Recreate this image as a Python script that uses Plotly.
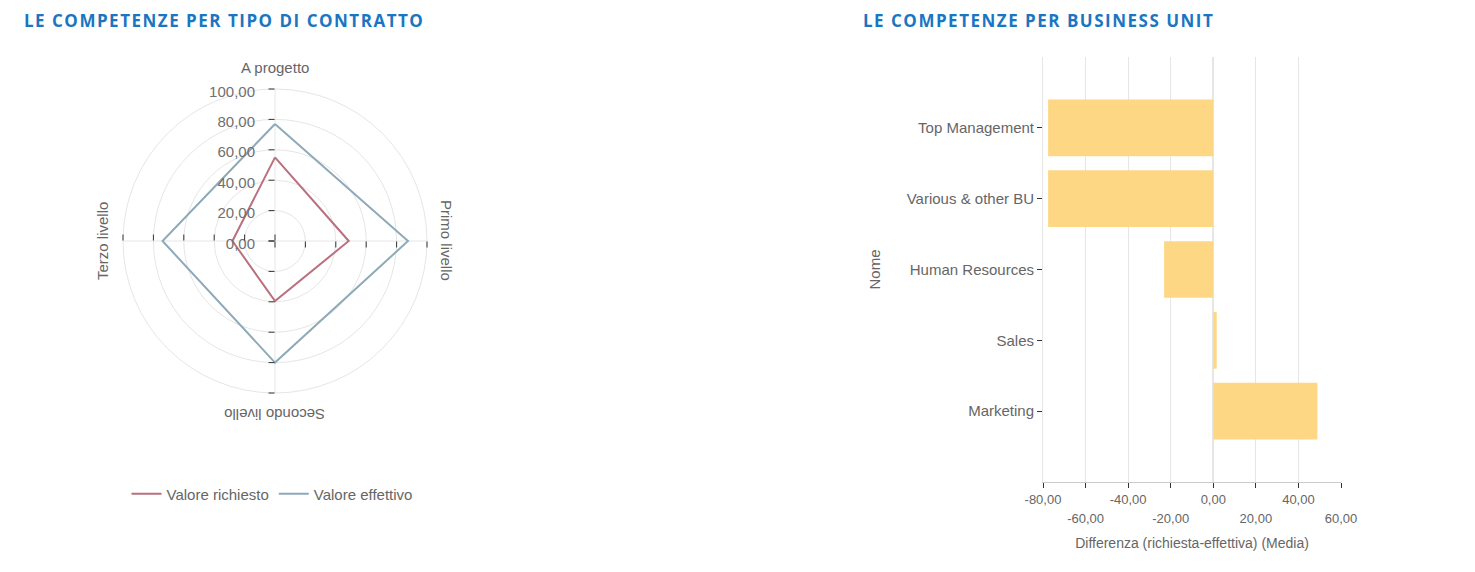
import plotly.graph_objects as go

W, H = 1475, 572

# radar: competenze per tipo di contratto
contratti = ["A progetto", "Primo livello", "Secondo livello", "Terzo livello"]
valore_richiesto = [55, 48.5, 39.5, 28]
valore_effettivo = [77, 87.5, 80, 74]

# barre: differenza per business unit
business_unit = ["Top Management", "Various & other BU", "Human Resources", "Sales", "Marketing"]
differenza = [-77.6, -77.6, -23.1, 1.6, 48.9]

x_ticks_row1 = [-80, -40, 0, 40]
x_ticks_row2 = [-60, -20, 20, 60]

GRAY = "#666666"
GRID = "#e6e6e6"
TICK = "#333333"
FONT = "Liberation Sans, Arial, sans-serif"


def px(x):
    return x / W


def py(y):
    return 1 - y / H


def fmt(v):
    return f"{v:.2f}".replace(".", ",")


fig = go.Figure()

closed = lambda l: l + l[:1]

fig.add_trace(go.Scatterpolar(
    r=closed(valore_richiesto), theta=closed(contratti),
    mode="lines", name="Valore richiesto",
    line=dict(color="#b9707f", width=2),
    subplot="polar",
))
fig.add_trace(go.Scatterpolar(
    r=closed(valore_effettivo), theta=closed(contratti),
    mode="lines", name="Valore effettivo",
    line=dict(color="#8eaab8", width=2),
    subplot="polar",
))

# extra polars only to draw the tick marks on the other spokes
for i, ang in enumerate([0, 270, 180]):
    fig.add_trace(go.Scatterpolar(r=[None], theta=[contratti[0]], mode="lines",
                                  showlegend=False, hoverinfo="skip",
                                  subplot=f"polar{i + 2}"))

fig.add_trace(go.Bar(
    x=differenza, y=business_unit, orientation="h",
    marker=dict(color="#fdd784", line=dict(width=0)),
    width=0.8, showlegend=False,
    xaxis="x", yaxis="y",
))
# second row of x tick labels
fig.add_trace(go.Scatter(x=[None], y=[business_unit[0]], xaxis="x2", yaxis="y",
                         showlegend=False, hoverinfo="skip"))

polar_domain = dict(x=[px(123), px(427)], y=[py(393), py(89)])

radial_common = dict(range=[0, 100], tickvals=[0, 20, 40, 60, 80, 100])

layout = dict(
    width=W, height=H,
    margin=dict(l=0, r=0, t=0, b=0, autoexpand=False),
    paper_bgcolor="white", plot_bgcolor="white",
    font=dict(family=FONT, color=GRAY, size=15),
    separators=",.",
    polar=dict(
        domain=polar_domain,
        bgcolor="rgba(0,0,0,0)",
        angularaxis=dict(
            rotation=90, direction="clockwise",
            showticklabels=False, ticks="",
            showline=True, linecolor=GRID, linewidth=1,
            showgrid=True, gridcolor=GRID,
        ),
        radialaxis=dict(
            **radial_common,
            angle=90, side="counterclockwise",
            tickformat=".2f",
            ticks="outside", ticklen=6, tickcolor=TICK, tickwidth=1,
            tickfont=dict(size=15, color="#707070"),
            showline=False, showgrid=True, gridcolor=GRID,
        ),
    ),
    xaxis=dict(
        domain=[px(1043), px(1341)], range=[-80, 60],
        tickvals=[-80, -60, -40, -20, 0, 20, 40, 60],
        ticktext=[fmt(v) if v in x_ticks_row1 else "" for v in [-80, -60, -40, -20, 0, 20, 40, 60]],
        ticks="outside", ticklen=5, tickcolor=TICK,
        tickfont=dict(size=13, color=GRAY),
        showline=True, linecolor="#cccccc",
        showgrid=True, gridcolor=GRID, zeroline=True, zerolinecolor=GRID,
        anchor="y", automargin=False,
        title=dict(text="Differenza (richiesta-effettiva) (Media)",
                   font=dict(size=14, color=GRAY), standoff=32),
    ),
    xaxis2=dict(
        overlaying="x", matches="x", range=[-80, 60], anchor="y", side="bottom",
        tickvals=x_ticks_row2, ticktext=[fmt(v) for v in x_ticks_row2],
        ticks="outside", ticklen=5, tickcolor="rgba(0,0,0,0)",
        ticklabelstandoff=19, automargin=False,
        tickfont=dict(size=13, color=GRAY),
        showgrid=False, zeroline=False, showline=False,
    ),
    yaxis=dict(
        domain=[py(482), py(57)], range=[5, -1],
        type="category",
        ticks="outside", ticklen=5, tickcolor=TICK,
        tickfont=dict(size=15, color=GRAY),
        showline=True, linecolor=GRID, showgrid=False, zeroline=False,
        anchor="x", automargin=False,
        title=dict(text="Nome", font=dict(size=15, color=GRAY), standoff=22),
    ),
    legend=dict(
        orientation="h", x=px(272), y=py(494), xanchor="center", yanchor="middle",
        font=dict(size=15, color=GRAY), itemwidth=30, tracegroupgap=0,
        bgcolor="rgba(0,0,0,0)",
    ),
    showlegend=True,
)

for i, ang in enumerate([0, 270, 180]):
    layout[f"polar{i + 2}"] = dict(
        domain=polar_domain,
        bgcolor="rgba(0,0,0,0)",
        angularaxis=dict(rotation=90, direction="clockwise", visible=False),
        radialaxis=dict(
            **radial_common,
            angle=ang, showticklabels=False,
            ticks="outside", ticklen=6, tickcolor=TICK, tickwidth=1,
            showline=False, showgrid=False,
        ),
    )

fig.update_layout(**layout)

title_font = dict(family="Open Sans, sans-serif", size=17, color="#1a76c2")
titoli = [("LE COMPETENZE PER TIPO DI CONTRATTO", 22), ("LE COMPETENZE PER BUSINESS UNIT", 861)]
for testo, x0 in titoli:
    fig.add_annotation(
        text=f'<b><span style="letter-spacing:1.5px">{testo}</span></b>',
        x=px(x0), y=py(21), xref="paper", yref="paper",
        xanchor="left", yanchor="middle", showarrow=False, font=title_font,
    )

# etichette angolari ruotate lungo il cerchio
etichette = [(contratti[0], 275, 68, 0), (contratti[1], 447, 240, 90),
             (contratti[2], 275, 415, 180), (contratti[3], 102, 241, -90)]
for testo, x0, y0, ang in etichette:
    fig.add_annotation(
        text=testo, x=px(x0), y=py(y0), xref="paper", yref="paper",
        xanchor="center", yanchor="middle", showarrow=False, textangle=ang,
        font=dict(size=15, color=GRAY, family=FONT),
    )

# pagina senza margini, così la figura occupa esattamente la finestra
fig.write_html("out.html", config={"displayModeBar": False},
               post_script="document.body.style.margin='0';document.body.style.overflow='hidden';")
